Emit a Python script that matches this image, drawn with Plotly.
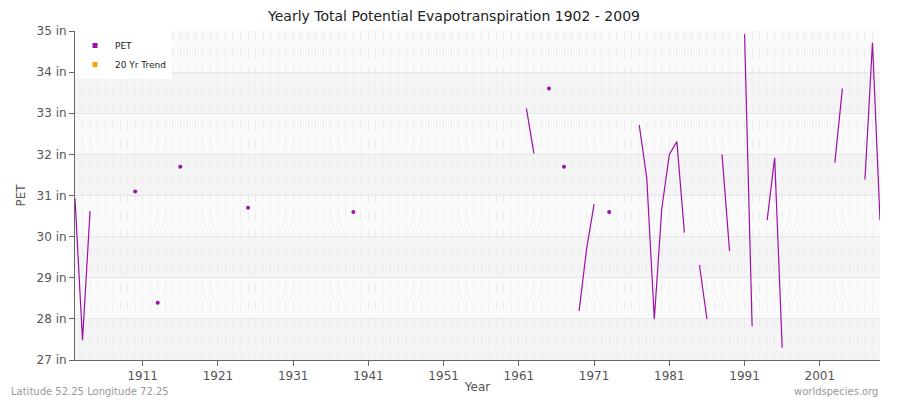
import plotly.graph_objects as go

years = list(range(1902, 2010))
pet_values = {
    1902: 30.93, 1903: 27.48, 1904: 30.62, 1910: 31.1, 1913: 28.39, 1916: 31.7,
    1925: 30.7, 1939: 30.6, 1962: 33.12, 1963: 32.02, 1965: 33.6, 1967: 31.7,
    1969: 28.19, 1970: 29.7, 1971: 30.79, 1973: 30.6, 1977: 32.71, 1978: 31.42,
    1979: 27.99, 1980: 30.69, 1981: 32.0, 1982: 32.31, 1983: 30.1, 1985: 29.31,
    1986: 27.99, 1988: 32.0, 1989: 29.65, 1991: 34.92, 1992: 27.82, 1994: 30.4,
    1995: 31.92, 1996: 27.3, 2003: 31.8, 2004: 33.6, 2007: 31.39, 2008: 34.72,
    2009: 30.4,
}
pet = [pet_values.get(y) for y in years]
x_ticks = [1911, 1921, 1931, 1941, 1951, 1961, 1971, 1981, 1991, 2001]
y_ticks = list(range(27, 36))

# isolated points get a dot, runs get a line
iso_x, iso_y = [], []
for i, v in enumerate(pet):
    prev_v = pet[i - 1] if i > 0 else None
    next_v = pet[i + 1] if i < len(pet) - 1 else None
    if v is not None and prev_v is None and next_v is None:
        iso_x.append(years[i])
        iso_y.append(v)

purple = "#9b10a8"
fig = go.Figure()
fig.add_trace(go.Scatter(x=years, y=pet, mode="lines", connectgaps=False,
                         line=dict(color=purple, width=1.2), showlegend=False))
fig.add_trace(go.Scatter(x=iso_x, y=iso_y, mode="markers",
                         marker=dict(color=purple, size=4), showlegend=False))
fig.add_trace(go.Scatter(x=[None], y=[None], mode="markers", name="PET",
                         marker=dict(color=purple, symbol="square", size=5)))
fig.add_trace(go.Scatter(x=[None], y=[None], mode="markers", name="20 Yr Trend",
                         marker=dict(color="#f5a000", symbol="square", size=5)))

for lo in range(27, 35):
    fig.add_shape(type="rect", xref="paper", x0=0, x1=1, yref="y", y0=lo, y1=lo + 1,
                  fillcolor="#f4f4f4" if lo % 2 == 1 else "#fafafa",
                  line=dict(width=0), layer="below")

# page body has an 8px margin, so the figure is a bit smaller than the window
fig.update_layout(
    width=892, height=392,
    title=dict(text="Yearly Total Potential Evapotranspiration 1902 - 2009", x=0.5,
               xanchor="center", y=0.98, yanchor="middle",
               font=dict(family="DejaVu Sans", size=14, color="#222")),
    font=dict(family="DejaVu Sans", size=12, color="#555"),
    plot_bgcolor="white", paper_bgcolor="white",
    margin=dict(l=67, r=20, t=23, b=40, autoexpand=False),
    legend=dict(x=0.0, y=1.0, bgcolor="white", font=dict(size=9, color="#222"),
                itemwidth=30, tracegroupgap=0),
    xaxis=dict(range=[1902, 2009], tickvals=x_ticks, showgrid=False, zeroline=False,
               automargin=False,
               ticks="outside", ticklen=5, tickcolor="#666", showline=True, linecolor="#666",
               title=dict(text="Year", standoff=0, font=dict(size=12)),
               minor=dict(dtick=1, tick0=1902, showgrid=True, gridcolor="#ececec",
                          griddash="dash", gridwidth=1)),
    yaxis=dict(range=[27, 35], tickvals=y_ticks, ticktext=[f"{v} in" for v in y_ticks],
               showgrid=True, gridcolor="#e6e6e6", zeroline=False, ticks="outside",
               automargin=False,
               ticklen=5, tickcolor="#666", showline=True, linecolor="#666",
               title=dict(text="PET", standoff=8, font=dict(size=12))),
    annotations=[
        dict(text="Latitude 52.25 Longitude 72.25", xref="paper", yref="paper", x=-0.082,
             y=-0.097, xanchor="left", yanchor="middle", showarrow=False,
             font=dict(size=10, color="#999")),
        dict(text="worldspecies.org", xref="paper", yref="paper", x=1.0, y=-0.097,
             xanchor="right", yanchor="middle", showarrow=False,
             font=dict(size=10, color="#999")),
    ],
)
fig.write_html("out.html")
